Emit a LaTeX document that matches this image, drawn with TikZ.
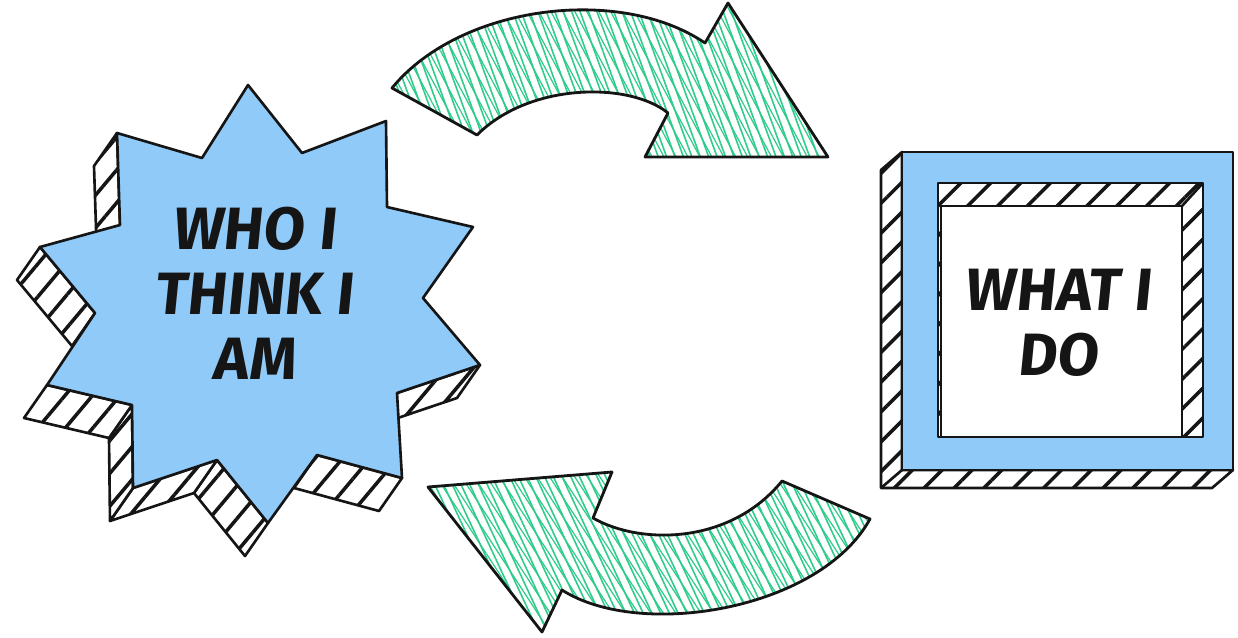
\documentclass[tikz,border=0pt]{standalone}
\usepackage{fontspec}
\setmainfont{Fira Sans}
\newfontfamily\markerfont{Fira Sans}[FakeSlant=0.1]
\usepackage{tikz}
\usetikzlibrary{calc,patterns.meta}

\definecolor{skyblue}{HTML}{90CAF9}
\definecolor{mint}{RGB}{46,204,138}
\definecolor{inkblack}{HTML}{151515}

\begin{document}
\begin{tikzpicture}[x=0.02cm,y=-0.02cm,
    outline/.style={draw=inkblack,line width=1.5pt,line join=round},
    blueface/.style={outline,fill=skyblue},
    stripes/.style={outline,preaction={fill=white},pattern color=inkblack,
        pattern={Lines[angle=#1,distance=12pt,line width=2pt]}},
    greenarrow/.style={outline,line width=1.6pt,preaction={fill=white},
        preaction={pattern color=mint,pattern={Lines[angle=#1+8,distance=6pt,line width=0.7pt]}},
        pattern color=mint,pattern={Lines[angle=#1,distance=4.5pt,line width=0.9pt]}},
    label/.style={font=\markerfont\bfseries\fontsize{34}{37}\selectfont,text=inkblack,align=center}]
    \useasboundingbox (0,0) rectangle (1238,637);

    % Star corners
    \foreach \px/\py [count=\i] in {248/85,302/153,386/121,387/207,473/227,
        423/298,480/365,397/393,402/478,317/455,268/523,217/460,
        133/488,132/405,47/385,95/313,40/247,120/225,117/133,202/158}
        \coordinate (s\i) at (\px,\py);

    % Star extrusion (faces towards the lower left)
    \foreach \a/\b in {7/8,9/10,11/12,12/13,13/14,14/15,16/17,18/19}
        \draw[stripes=50] (s\a) -- (s\b) -- ($(s\b)+(-23,33)$) -- ($(s\a)+(-23,33)$) -- cycle;

    % Star front
    \draw[blueface] (s1) \foreach \i in {2,...,20}{ -- (s\i)} -- cycle;
    \node[label] (who) at (254,293) {WHO I\\THINK I\\AM};

    % Square extrusion
    \coordinate (qa) at (902,152);
    \coordinate (qb) at (1233,470);
    \draw[stripes=45] (qa) -- ++(-21,18) -- (881,488) -- (1212,488) -- (qb) -- (902,470) -- cycle;
    \draw[outline] (902,470) -- (881,488);

    % Square front
    \draw[blueface] (qa) rectangle (qb);

    % Inner hole and white face
    \draw[stripes=45] (938,183) rectangle (1203,437);
    \draw[outline,fill=white] (941,206) rectangle (1182,437);
    \draw[outline] (1203,183) -- (1182,206);
    \node[label] (what) at (1058,323) {WHAT I\\DO};

    % Upper arrow
    \draw[greenarrow=-70] (392,88) .. controls (460,5) and (620,-15) .. (705,43)
        -- (728,3) -- (828,157) -- (645,157) -- (668,113)
        .. controls (630,82) and (530,82) .. (477,135) -- cycle;

    % Lower arrow
    \draw[greenarrow=-65] (428,487) -- (612,472) -- (593,518)
        .. controls (640,545) and (730,545) .. (782,481)
        -- (870,519) .. controls (820,610) and (640,640) .. (562,590)
        -- (542,632) -- cycle;
\end{tikzpicture}
\end{document}
